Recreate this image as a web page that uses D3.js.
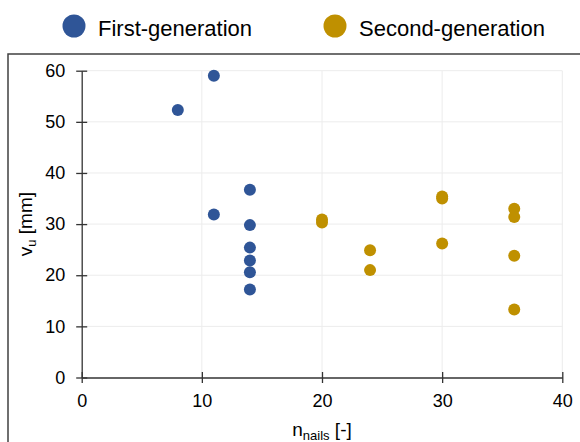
<!DOCTYPE html>
<html>
<head>
<meta charset="utf-8">
<script src="https://cdn.jsdelivr.net/npm/d3@7"></script>
<style>
  body { margin: 0; background: #fff; }
  svg { display: block; font-family: "Liberation Sans", Arial, sans-serif; }
</style>
</head>
<body>
<svg width="580" height="442"></svg>
<script>
// data
const seriesNames = ["First-generation", "Second-generation"];
const seriesColors = ["#2f5597", "#bf9000"];
const firstNails = [8, 11, 11, 14, 14, 14, 14, 14, 14];
const firstVu = [52.3, 59.0, 31.9, 36.7, 29.8, 25.4, 22.9, 20.6, 17.2];
const secondNails = [20, 20, 24, 24, 30, 30, 30, 36, 36, 36, 36];
const secondVu = [30.9, 30.3, 24.9, 21.0, 35.4, 35.0, 26.2, 33.0, 31.4, 23.8, 13.3];
const xTicks = [0, 10, 20, 30, 40];
const yTicks = [0, 10, 20, 30, 40, 50, 60];

const svg = d3.select("svg");

const x = d3.scaleLinear().domain([0, 40]).range([81.7, 562.3]);
const y = d3.scaleLinear().domain([0, 60]).range([377.5, 70.7]);

// outer frame (only left and top visible)
svg.append("rect")
  .attr("x", 8).attr("y", 54)
  .attr("width", 640).attr("height", 420)
  .attr("fill", "none")
  .attr("stroke", "#404040")
  .attr("stroke-width", 1.5);

// gridlines
const grid = svg.append("g").attr("stroke", "#ececec").attr("stroke-width", 1);
grid.selectAll("line.v")
  .data(xTicks.filter(d => d > 0)).enter()
  .append("line").attr("class", "v")
  .attr("x1", d => x(d)).attr("x2", d => x(d))
  .attr("y1", y(60)).attr("y2", y(0));
grid.selectAll("line.h")
  .data(yTicks.filter(d => d > 0)).enter()
  .append("line").attr("class", "h")
  .attr("x1", x(0)).attr("x2", x(40))
  .attr("y1", d => y(d)).attr("y2", d => y(d));

// axes with ticks crossing the line
const xAxis = svg.append("g")
  .attr("transform", `translate(0,${y(0)})`)
  .call(d3.axisBottom(x).tickValues(xTicks).tickSizeOuter(0));
xAxis.selectAll(".tick line").attr("y1", -5.5).attr("y2", 5.5);
xAxis.selectAll(".tick text").attr("y", 16.5).attr("dy", "0.71em");

const yAxis = svg.append("g")
  .attr("transform", `translate(${x(0)},0)`)
  .call(d3.axisLeft(y).tickValues(yTicks).tickSizeOuter(0));
yAxis.selectAll(".tick line").attr("x1", -5.5).attr("x2", 5.5);
yAxis.selectAll(".tick text").attr("x", -16.5);

svg.selectAll(".domain, .tick line").attr("stroke", "#333").attr("stroke-width", 1.3);
svg.selectAll(".tick text")
  .attr("fill", "#000")
  .style("font-size", "18px")
  .style("font-family", "'Liberation Sans', Arial, sans-serif");

// points
const first = firstNails.map((n, i) => ({n: n, v: firstVu[i]}));
const second = secondNails.map((n, i) => ({n: n, v: secondVu[i]}));
[first, second].forEach((pts, k) => {
  svg.append("g").selectAll("circle")
    .data(pts).enter()
    .append("circle")
    .attr("cx", d => x(d.n))
    .attr("cy", d => y(d.v))
    .attr("r", 6)
    .attr("fill", seriesColors[k]);
});

// axis titles
const xt = svg.append("text")
  .attr("x", (x(0) + x(40)) / 2).attr("y", 436)
  .attr("text-anchor", "middle")
  .style("font-size", "19px");
xt.append("tspan").text("n");
xt.append("tspan").attr("dy", 4).style("font-size", "13px").text("nails");
xt.append("tspan").attr("dy", -4).text(" [-]");

const yt = svg.append("text")
  .attr("transform", `translate(32,${(y(0) + y(60)) / 2}) rotate(-90)`)
  .attr("text-anchor", "middle")
  .style("font-size", "19px");
yt.append("tspan").text("v");
yt.append("tspan").attr("dy", 4).style("font-size", "13px").text("u");
yt.append("tspan").attr("dy", -4).text(" [mm]");

// legend
const legendX = [74, 335];
const legend = svg.append("g").selectAll("g")
  .data(seriesNames).enter()
  .append("g")
  .attr("transform", (d, i) => `translate(${legendX[i]},26)`);
legend.append("circle").attr("r", 11.5).attr("fill", (d, i) => seriesColors[i]);
legend.append("text")
  .attr("x", 24).attr("y", 10)
  .style("font-size", "22px")
  .text(d => d);
</script>
</body>
</html>
